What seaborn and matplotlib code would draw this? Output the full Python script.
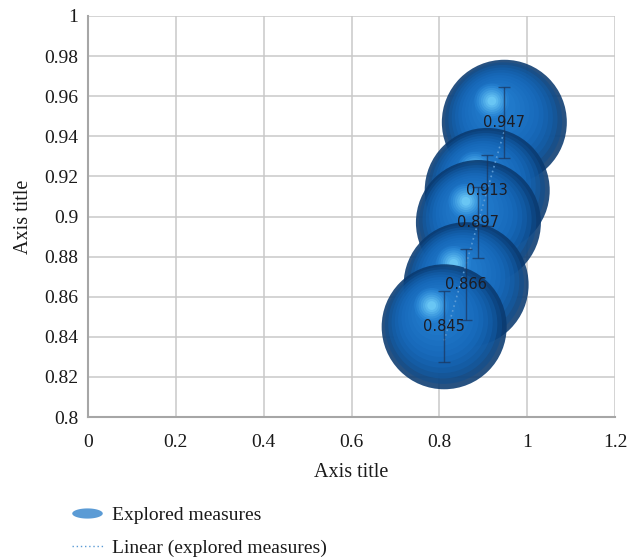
import numpy as np
import pandas as pd
import matplotlib
matplotlib.use("Agg")
import matplotlib.pyplot as plt
import matplotlib.transforms as mtransforms
from matplotlib.path import Path
from matplotlib.lines import Line2D
from matplotlib.colors import to_rgb
import seaborn as sns

# ---- data ----
x_vals = [0.811, 0.861, 0.889, 0.909, 0.948]
y_vals = [0.845, 0.866, 0.897, 0.913, 0.947]
y_err = [0.0176, 0.0176, 0.0176, 0.0176, 0.0176]
labels = ["0.845", "0.866", "0.897", "0.913", "0.947"]
x_ticks = [0, 0.2, 0.4, 0.6, 0.8, 1.0, 1.2]
x_ticklabels = ["0", "0.2", "0.4", "0.6", "0.8", "1", "1.2"]
y_ticks = [0.8, 0.82, 0.84, 0.86, 0.88, 0.9, 0.92, 0.94, 0.96, 0.98, 1.0]
y_ticklabels = ["0.8", "0.82", "0.84", "0.86", "0.88", "0.9", "0.92", "0.94", "0.96", "0.98", "1"]

df = pd.DataFrame({"x": x_vals, "y": y_vals, "err": y_err, "label": labels})

sns.set_theme(style="white")
plt.rcParams["font.family"] = ["Liberation Serif", "DejaVu Serif"]

fig = plt.figure(figsize=(6.27, 5.6), dpi=100)
ax = fig.add_axes([88 / 627, 1 - 417 / 560, (615 - 88) / 627, (417 - 16) / 560])

ax.set_xlim(0, 1.2)
ax.set_ylim(0.8, 1.0)

# ---- trend line ----
sns.regplot(data=df, x="x", y="y", scatter=False, ci=None, ax=ax,
            line_kws=dict(color="#5b9bd5", ls=(0, (1, 2)), lw=1.2, zorder=6))

ax.set_xticks(x_ticks)
ax.set_xticklabels(x_ticklabels)
ax.set_yticks(y_ticks)
ax.set_yticklabels(y_ticklabels)
ax.grid(True, color="#c9c9c9", lw=1.1)
ax.set_axisbelow(True)
for s in ["top", "right"]:
    ax.spines[s].set_visible(False)
for s in ["left", "bottom"]:
    ax.spines[s].set_color("#a6a6a6")
    ax.spines[s].set_linewidth(1.5)
ax.tick_params(axis="both", length=0, labelsize=14, colors="#1a1a1a")
ax.tick_params(axis="x", pad=12)
ax.tick_params(axis="y", pad=7)
ax.set_xlabel("Axis title", fontsize=14.5, color="#1a1a1a", labelpad=9)
ax.set_ylabel("Axis title", fontsize=14.5, color="#1a1a1a", labelpad=8)

# ---- shaded spheres ----
D = 90.0  # diameter in points
R = D / 2


def lerp(c1, c2, t):
    a, b = np.array(to_rgb(c1)), np.array(to_rgb(c2))
    return tuple(a + (b - a) * t)


def grad(t):
    stops = [(0.0, "#0a3a70"), (0.15, "#115aa3"), (0.45, "#186bbd"), (1.0, "#227ccd")]
    for (t0, c0), (t1, c1) in zip(stops[:-1], stops[1:]):
        if t <= t1:
            return lerp(c0, c1, (t - t0) / (t1 - t0))
    return to_rgb(stops[-1][1])


order = np.argsort(df["y"].values)[::-1]
for rank, i in enumerate(order):
    row = df.iloc[[i]]
    z = 3 + rank * 0.1
    n = 12
    for k in range(n):
        t = k / (n - 1)
        d = D * (1 - 0.7 * t)
        dy = 0.25 * R * t
        dx = -0.12 * R * t
        tr = mtransforms.offset_copy(ax.transData, fig=fig, x=dx, y=dy, units="points")
        if k == 0:
            sns.scatterplot(data=row, x="x", y="y", s=d ** 2, color=grad(t), alpha=0.88,
                            edgecolor="none", ax=ax, zorder=z, legend=False)
        else:
            ax.scatter(row["x"], row["y"], s=d ** 2, color=grad(t), alpha=0.55,
                       edgecolors="none", transform=tr, zorder=z)
    # highlight
    m = 7
    for k in range(m):
        t = k / (m - 1)
        d = 0.28 * D * (1 - 0.75 * t)
        tr = mtransforms.offset_copy(ax.transData, fig=fig, x=-0.2 * R, y=0.34 * R, units="points")
        ax.scatter(row["x"], row["y"], s=d ** 2, color=lerp("#2a88d8", "#7fdcff", t), alpha=0.4,
                   edgecolors="none", transform=tr, zorder=z)

# ---- error bars ----
ax.errorbar(df["x"], df["y"], yerr=df["err"], fmt="none", ecolor="#1b355c", elinewidth=1.0,
            capsize=4, capthick=1.0, alpha=0.7, zorder=7)

# ---- data labels ----
for xv, yv, lab in zip(df["x"], df["y"], df["label"]):
    ax.text(xv, yv, lab, ha="center", va="center", fontsize=10.5, color="#1c1c24",
            family=["DejaVu Sans"], zorder=8)

# ---- legend ----
th = np.linspace(0, 2 * np.pi, 60)
ell = Path(np.column_stack([3 * np.cos(th), np.sin(th)]))
handles = [
    Line2D([], [], marker=ell, markersize=22, color="#5b9bd5", lw=0, markeredgecolor="none"),
    Line2D([], [], color="#5b9bd5", ls=(0, (1, 2)), lw=1.0),
]
fig.legend(handles, ["Explored measures", "Linear (explored measures)"], loc="upper left",
           bbox_to_anchor=(54 / 627, 1 - 489 / 560), frameon=False, fontsize=14,
           handlelength=1.6, handletextpad=0.5, labelspacing=0.78, labelcolor="#1a1a1a")

fig.savefig("out.png", dpi=100)
